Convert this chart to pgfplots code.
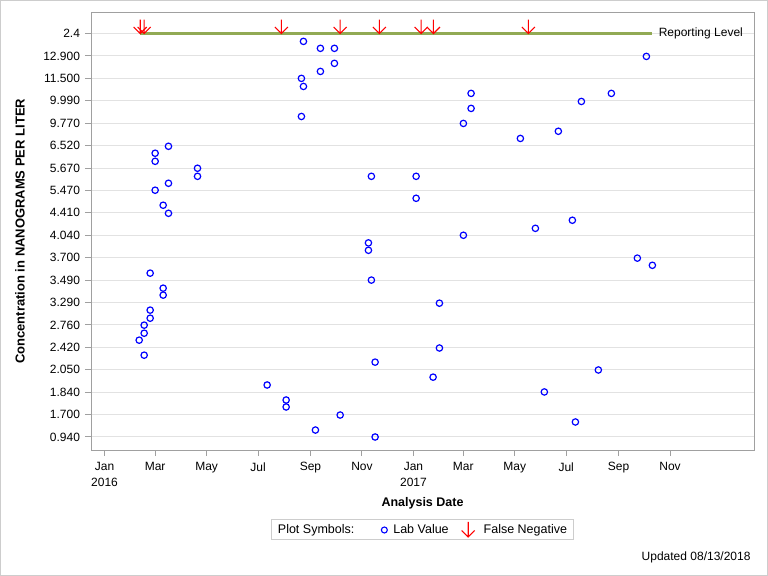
\documentclass[border=0pt]{standalone}
\usepackage{pgfplots}
\pgfplotsset{compat=1.18}
\usepackage{pgfplotstable}
\usepackage{fontspec}
\setmainfont{Liberation Sans}

\definecolor{axisgray}{RGB}{160,160,160}
\definecolor{gridgray}{RGB}{226,226,226}
\definecolor{reflevel}{RGB}{146,170,84}
\definecolor{bordergray}{RGB}{205,205,205}

\pgfdeclareplotmark{fnarrow}{%
  \pgfpathmoveto{\pgfpoint{0bp}{0bp}}%
  \pgfpathlineto{\pgfpoint{0bp}{14bp}}%
  \pgfpathmoveto{\pgfpoint{-6.5bp}{6.5bp}}%
  \pgfpathlineto{\pgfpoint{0bp}{0bp}}%
  \pgfpathlineto{\pgfpoint{6.5bp}{6.5bp}}%
  \pgfusepathqstroke}

% x = days since 1 Jan 2016, y = position index of the category level (0 = 0.940 ... 18 = 2.4)
\pgfplotstableread{
day idx
75.8 12.97
60.0 12.66
60.0 12.30
110.2 11.99
110.2 11.63
75.8 11.32
60.0 11.01
69.5 10.34
75.8 9.98
54.1 7.31
69.5 6.64
69.5 6.33
54.1 5.66
54.1 5.30
47.0 4.99
47.0 4.63
41.1 4.32
47.0 3.65
192.7 2.32
215.2 1.65
215.2 1.34
249.9 0.31
279.2 0.98
320.6 0.00
320.6 3.34
316.2 7.00
312.7 8.66
312.7 8.33
316.2 11.63
369.2 11.63
369.2 10.65
425.2 9.00
396.8 5.97
396.8 3.97
389.3 2.67
235.7 17.65
255.8 17.34
272.4 17.34
272.4 16.67
255.8 16.31
233.3 16.00
235.7 15.64
233.3 14.30
642.0 16.98
434.3 15.33
434.3 14.66
600.5 15.33
565.0 14.97
425.2 13.99
492.7 13.32
537.7 13.64
554.3 9.67
510.5 9.31
631.3 7.98
649.1 7.66
585.1 2.99
521.1 2.01
557.9 0.67
}\labdata

\pgfplotstableread{
day idx
42.3 18
47.0 18
209.6 18
279.2 18
325.7 18
375.1 18
389.7 18
502.2 18
}\fndata

\begin{document}
\begin{tikzpicture}
\useasboundingbox (0,0) rectangle (768bp,576bp);
\draw[bordergray, line width=1bp] (0.5bp,0.5bp) rectangle (767.5bp,575.5bp);
\begin{axis}[
  at={(91bp,126bp)}, anchor=south west,
  scale only axis, width=663bp, height=437.3bp,
  xmin=-16, xmax=769.5, ymin=-0.58, ymax=18.93,
  axis line style={draw=axisgray, line width=1bp},
  xtick={0,60,121,182,244,305,366,425,486,547,609,670},
  xticklabels={{Jan\\2016},Mar,May,Jul,Sep,Nov,{Jan\\2017},Mar,May,Jul,Sep,Nov},
  xticklabel style={align=center, font=\fontsize{12bp}{16bp}\selectfont, yshift=-3bp},
  ytick={0,...,18},
  yticklabels={0.940,1.700,1.840,2.050,2.420,2.760,3.290,3.490,3.700,4.040,4.410,5.470,5.670,6.520,9.770,9.990,11.500,12.900,2.4},
  yticklabel style={font=\fontsize{12bp}{14bp}\selectfont, xshift=-1.5bp},
  tick align=outside, major tick length=6bp,
  xtick pos=bottom, ytick pos=left,
  tick style={draw=axisgray, line width=1bp},
  ymajorgrids, grid style={draw=gridgray, line width=1bp},
  xlabel={Analysis Date}, ylabel={Concentration in NANOGRAMS PER LITER},
  xlabel style={font=\bfseries\fontsize{12.5bp}{14bp}\selectfont,
    at={(axis description cs:0.5,0)}, anchor=center, yshift=-53bp},
  ylabel style={font=\bfseries\fontsize{13bp}{15bp}\selectfont,
    at={(axis description cs:-0.1071,0.5)}, anchor=center},
  legend columns=-1,
  legend style={at={(0.5,-0.1818)}, anchor=center, draw=bordergray, line width=1bp,
    font=\fontsize{12.5bp}{14bp}\selectfont, inner xsep=4bp, inner ysep=2bp,
    /tikz/every even column/.append style={column sep=10bp}},
]
\addlegendimage{empty legend}
\addlegendentry{Plot Symbols:\rule{14bp}{0pt}}
\addplot[forget plot, reflevel, line width=3bp] coordinates {(42,18) (649,18)};
\addplot[only marks, mark=o, mark size=3.2bp, draw=blue, line width=1.2bp,
  legend image code/.code={\path[draw=none] (-1bp,0bp)--(10bp,0bp); \draw[blue,line width=1.1bp] (3bp,0bp) circle (3bp);}]
  table[x=day,y=idx] {\labdata};
\addlegendentry{Lab Value}
\addplot[only marks, mark=fnarrow, draw=red, line width=1.1bp,
  legend image code/.code={\path[draw=none] (-1bp,0bp)--(20bp,0bp); \draw[red,line width=1.1bp] (6.5bp,8bp)--(6.5bp,-7bp) (0bp,-0.5bp)--(6.5bp,-7bp)--(13bp,-0.5bp);}]
  table[x=day,y=idx] {\fndata};
\addlegendentry{False Negative}
\node[anchor=west, font=\fontsize{12bp}{14bp}\selectfont, xshift=3bp] at (axis cs:649,18) {Reporting Level};
\end{axis}
\node[anchor=east, font=\fontsize{12bp}{14bp}\selectfont] at (754bp,19bp) {Updated 08/13/2018};
\end{tikzpicture}
\end{document}
